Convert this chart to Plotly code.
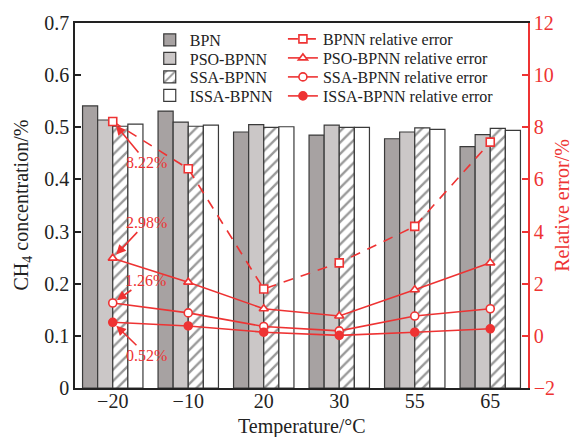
import plotly.graph_objects as go

# Test temperatures (categorical x axis)
temperatures = ["−20", "−10", "20", "30", "55", "65"]

# Predicted CH4 concentration (%) for each model
bpn_conc = [0.541, 0.531, 0.491, 0.485, 0.478, 0.463]
pso_conc = [0.514, 0.510, 0.505, 0.504, 0.491, 0.486]
ssa_conc = [0.502, 0.502, 0.500, 0.500, 0.499, 0.498]
issa_conc = [0.506, 0.504, 0.501, 0.500, 0.496, 0.494]

# Relative error (%) for each model
bpnn_err = [8.22, 6.41, 1.80, 2.80, 4.20, 7.43]
pso_err = [2.98, 2.06, 1.04, 0.76, 1.77, 2.80]
ssa_err = [1.26, 0.88, 0.36, 0.19, 0.76, 1.04]
issa_err = [0.52, 0.38, 0.14, 0.02, 0.14, 0.27]

RED = "#ee3333"
EDGE = "#3a3a3a"
INK = "#222222"
FONT = "Liberation Serif"

fig = go.Figure()

# Each legend entry gets its own legend box so rows can be spaced tightly
bar_line = dict(color=EDGE, width=1.2)
fig.add_trace(go.Bar(name="BPN", x=temperatures, y=bpn_conc, legend="legend",
                     marker=dict(color="#a7a2a2", line=bar_line)))
fig.add_trace(go.Bar(name="PSO-BPNN", x=temperatures, y=pso_conc, legend="legend2",
                     marker=dict(color="#cbc7c7", line=bar_line)))
fig.add_trace(go.Bar(name="SSA-BPNN", x=temperatures, y=ssa_conc, legend="legend3",
                     marker=dict(color="white", line=bar_line,
                                 pattern=dict(shape="/", fgcolor="#333333", bgcolor="white",
                                              size=8, solidity=0.3))))
fig.add_trace(go.Bar(name="ISSA-BPNN", x=temperatures, y=issa_conc, legend="legend4",
                     marker=dict(color="white", line=bar_line)))

err_series = [
    ("BPNN relative error", bpnn_err, "square", "white", "10px,8px", "legend5"),
    ("PSO-BPNN relative error", pso_err, "triangle-up", "white", "solid", "legend6"),
    ("SSA-BPNN relative error", ssa_err, "circle", "white", "solid", "legend7"),
    ("ISSA-BPNN relative error", issa_err, "circle", RED, "solid", "legend8"),
]
for name, vals, sym, fill, dash, leg in err_series:
    fig.add_trace(go.Scatter(
        name=name, x=temperatures, y=vals, yaxis="y2", legend=leg,
        mode="lines+markers",
        line=dict(color=RED, width=1.6, dash=dash),
        marker=dict(symbol=sym, size=8, color=fill, line=dict(color=RED, width=1.6)),
    ))

# Callouts for the errors at the first temperature
callouts = [
    (bpnn_err[0], 34, 41),
    (pso_err[0], 34, -36),
    (ssa_err[0], 33, -23),
    (issa_err[0], 34, 33),
]
for val, ax, ay in callouts:
    fig.add_annotation(
        x=temperatures[0], y=val, xref="x", yref="y2",
        text=f"{val:.2f}%", showarrow=True, ax=ax, ay=ay,
        arrowhead=2, arrowsize=1.2, arrowwidth=1.6, arrowcolor=RED,
        standoff=5, font=dict(family=FONT, size=16, color=RED),
    )

# Axis titles placed as annotations for precise spacing
fig.add_annotation(
    text="Temperature/°C", xref="paper", yref="paper", x=0.5, y=0,
    xanchor="center", yanchor="middle", yshift=-38, showarrow=False,
    font=dict(family=FONT, size=20, color=INK),
)
fig.add_annotation(
    text="CH<sub>4</sub> concentration/%", xref="paper", yref="paper", x=0, y=0.5,
    xanchor="center", yanchor="middle", xshift=-53, textangle=-90, showarrow=False,
    font=dict(family=FONT, size=20, color=INK),
)

# Legend placement: plot area spans 23..388 px vertically
def row_y(px):
    return (388 - px) / 365

left_rows = [40, 58.5, 77, 95.5]
right_rows = [39, 58, 77, 96]
legend_boxes = {}
for i, py in enumerate(left_rows):
    key = "legend" if i == 0 else f"legend{i + 1}"
    legend_boxes[key] = dict(x=0.165, y=row_y(py), xanchor="left", yanchor="middle",
                             bgcolor="rgba(0,0,0,0)",
                             font=dict(family=FONT, size=16, color=INK))
for i, py in enumerate(right_rows):
    legend_boxes[f"legend{i + 5}"] = dict(x=0.459, y=row_y(py), xanchor="left",
                                          yanchor="middle", bgcolor="rgba(0,0,0,0)",
                                          font=dict(family=FONT, size=16, color=INK))

tick_font = dict(family=FONT, size=20, color=INK)
red_font = dict(family=FONT, size=20, color=RED)

fig.update_layout(
    width=573, height=437,
    margin=dict(l=75, r=45, t=23, b=49),
    paper_bgcolor="white", plot_bgcolor="white",
    font=dict(family=FONT, size=20, color=INK),
    showlegend=True,
    barmode="group", bargap=0.2, bargroupgap=0,
    xaxis=dict(
        automargin=False,
        showline=True, linecolor=INK, linewidth=1.5, mirror=True,
        ticks="", ticklabelstandoff=-6, tickfont=tick_font, showgrid=False,
    ),
    yaxis=dict(
        automargin=False,
        range=[0, 0.7], dtick=0.1, showline=True, linecolor=INK, linewidth=1.5,
        ticks="inside", ticklen=6, tickwidth=1.5, tickcolor=INK,
        tickfont=tick_font, showgrid=False, zeroline=False,
    ),
    yaxis2=dict(
        title=dict(text="Relative error/%", font=red_font),
        automargin=False,
        overlaying="y", side="right", range=[-2, 12], dtick=2,
        showline=True, linecolor=RED, linewidth=1.5,
        ticks="inside", ticklen=6, tickwidth=1.5, tickcolor=RED,
        tickfont=red_font, showgrid=False, zeroline=False,
    ),
    **legend_boxes,
)

fig.write_html("out.html")
